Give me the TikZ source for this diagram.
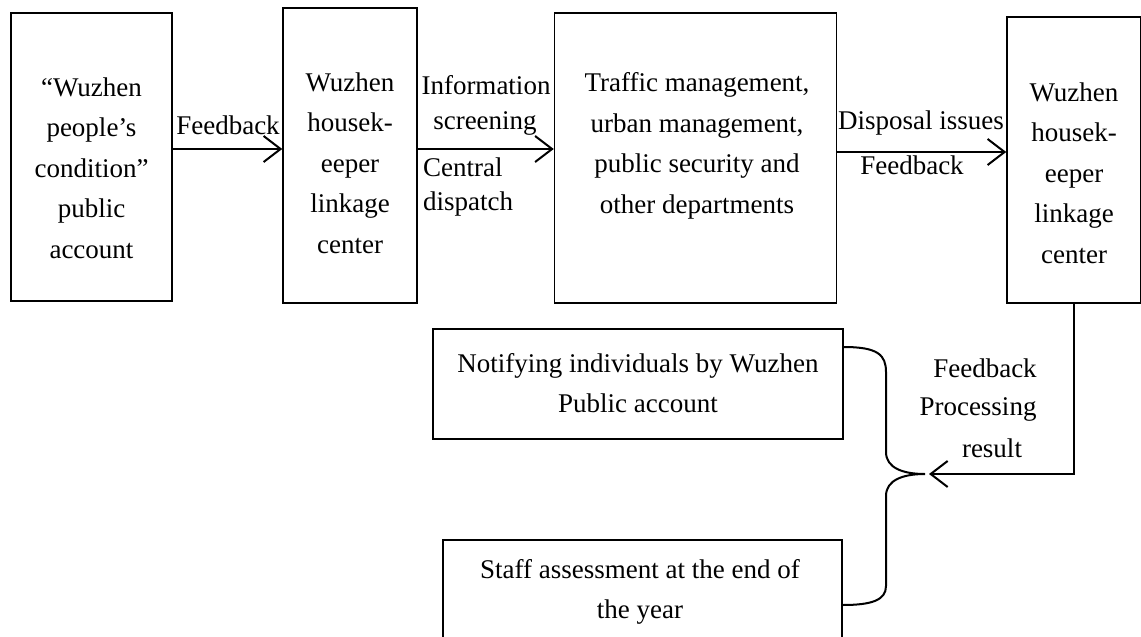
\documentclass[tikz,border=0pt]{standalone}
\usepackage{fontspec}
\setmainfont{Liberation Serif}
\usetikzlibrary{arrows.meta}
\tikzset{
  box/.style={draw, line width=1.5pt, inner sep=0pt},
  txt/.style={inner sep=0pt, align=center, font=\fontsize{27}{40.5}\selectfont},
  arr/.style={line width=2pt, -{Straight Barb[length=17pt,width=26pt,line width=2pt]}},
  brc/.style={line width=2pt}
}
\begin{document}
\begin{tikzpicture}[x=1pt,y=-1pt]
\useasboundingbox (0,0) rectangle (1141,637);
\clip (0,0) rectangle (1141,637);
% boxes
\node[box, minimum width=161pt, minimum height=288pt] (b1) at (91.5,157) {};
\node[box, minimum width=134pt, minimum height=295pt] (b2) at (350,155.5) {};
\node[box, minimum width=282pt, minimum height=290pt] (b3) at (695.5,158) {};
\node[box, minimum width=134pt, minimum height=286pt] (b4) at (1074,160) {};
\node[box, minimum width=410pt, minimum height=110pt] (b5) at (638,384) {};
\node[box, minimum width=399pt, minimum height=110pt] (b6) at (642.5,595) {};
% box texts
\node[txt] (t1) at (91.5,168) {“Wuzhen\\people’s\\condition”\\public\\account};
\node[txt] (t2) at (350,163) {Wuzhen\\housek-\\eeper\\linkage\\center};
\node[txt] (t3) at (697,146) {Traffic management,\\urban management,\\public security and\\other departments};
\node[txt] (t4) at (1074,173) {Wuzhen\\housek-\\eeper\\linkage\\center};
\node[txt] (t5) at (638,383) {Notifying individuals by Wuzhen\\Public account};
\node[txt] (t6) at (640,592) {Staff assessment at the end of\\the year};
% arrows
\draw[arr] (b1.east |- 0,149) -- (b2.west |- 0,149);
\draw[arr] (b2.east |- 0,149) -- (b3.west |- 0,149);
\draw[arr] (b3.east |- 0,152) -- (b4.west |- 0,152);
% arrow labels
\node[txt] (l1) at (228,125) {Feedback};
\node[txt] (l2) at (486,85) {Information};
\node[txt] (l3) at (485,123) {screening};
\node[txt, anchor=west] (l4) at (423,167) {Central};
\node[txt, anchor=west] (l5) at (423,204) {dispatch};
\node[txt] (l6) at (921,123) {Disposal issues};
\node[txt] (l7) at (912,165) {Feedback};
\node[txt] (l8) at (985,368) {Feedback};
\node[txt] (l9) at (978,409) {Processing};
\node[txt] (l10) at (992,448) {result};
% brace
\coordinate (tip) at (925,474);
\coordinate (bt) at (b5.east |- 0,347);
\coordinate (bb) at (b6.east |- 0,605);
\draw[brc] (bt) .. controls (878,347) and (886,355) .. (886,372) -- (886,452)
  .. controls (886,468) and (903,474) .. (tip)
  .. controls (903,474) and (886,480) .. (886,496) -- (886,586)
  .. controls (886,600) and (872,605) .. (bb);
% return connector
\coordinate (end) at (929,474);
\draw[arr] (b4.south) |- (end);
\end{tikzpicture}
\end{document}
